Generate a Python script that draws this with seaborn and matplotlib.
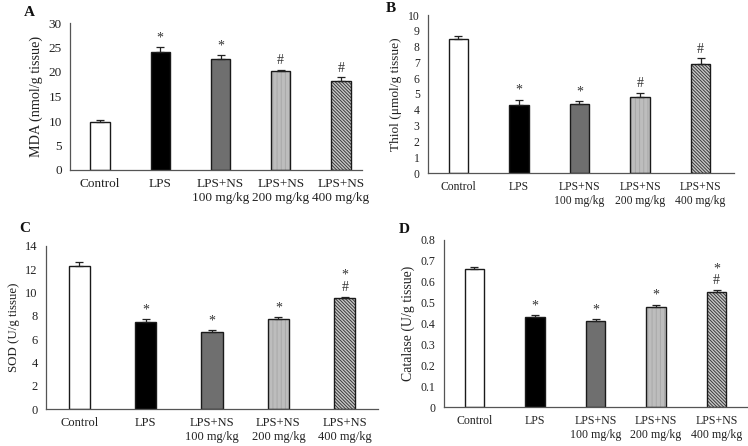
import numpy as np
import pandas as pd
import matplotlib
matplotlib.use("Agg")
import matplotlib.pyplot as plt
import matplotlib.colors as mcolors
import seaborn as sns

sns.set_theme(style="white")
plt.rcParams['font.family'] = ['Liberation Serif', 'DejaVu Serif']
plt.rcParams['hatch.linewidth'] = 0.7

groups = ['Control', 'LPS', 'LPS+NS\n100 mg/kg', 'LPS+NS\n200 mg/kg', 'LPS+NS\n400 mg/kg']

mda = [9.7, 24.0, 22.6, 20.2, 18.2]
mda_err = [0.6, 1.1, 0.9, 0.3, 0.7]
mda_marks = ['', '*', '*', '#', '#']

thiol = [8.45, 4.3, 4.35, 4.8, 6.9]
thiol_err = [0.25, 0.35, 0.2, 0.25, 0.35]
thiol_marks = ['', '*', '*', '#', '#']

sod = [12.3, 7.5, 6.6, 7.75, 9.5]
sod_err = [0.3, 0.2, 0.2, 0.15, 0.15]
sod_marks = ['', '*', '*', '*', '*\n#']

cat = [0.66, 0.43, 0.41, 0.48, 0.55]
cat_err = [0.01, 0.01, 0.01, 0.01, 0.01]
cat_marks = ['', '*', '*', '*', '*\n#']

fills = ['#ffffff', '#000000', '#6f6f6f', '#bdbdbd', '#c8c8c8']
hatches = [None, None, None, '||||', '\\' * 10]
hatch_cols = [None, None, None, '#a8a8a8', '#3a3a3a']

W, H = 748, 446
fig = plt.figure(figsize=(7.48, 4.46), dpi=100)


def px_axes(left, right, top, bottom):
    return fig.add_axes([left / W, 1 - bottom / H, (right - left) / W, (bottom - top) / H])


panels = [
    dict(box=(70, 362, 23, 170), vals=mda, err=mda_err, marks=mda_marks, ymax=30, step=5,
         ylabel='MDA (nmol/g tissue)', xr=4.35, tick=9.5, yl=10.2, letter='A', lp=(29, 12)),
    dict(box=(428, 734, 15, 173), vals=thiol, err=thiol_err, marks=thiol_marks, ymax=10, step=1,
         ylabel='Thiol (μmol/g tissue)', xr=4.55, tick=8.4, yl=9.6, letter='B', lp=(391, 9)),
    dict(box=(46, 378, 246, 409), vals=sod, err=sod_err, marks=sod_marks, ymax=14, step=2,
         ylabel='SOD (U/g tissue)', xr=4.5, tick=9.0, yl=9.3, letter='C', lp=(25, 228)),
    dict(box=(444, 747, 240, 407), vals=cat, err=cat_err, marks=cat_marks, ymax=0.8, step=0.1,
         ylabel='Catalase (U/g tissue)', xr=4.5, tick=8.6, yl=9.9, letter='D', lp=(404, 229)),
]

for p in panels:
    ax = px_axes(*p['box'])
    df = pd.DataFrame({'group': groups, 'value': p['vals']})
    sns.barplot(data=df, x='group', y='value', hue='group', palette=fills, legend=False,
                width=0.32, edgecolor='#1a1a1a', linewidth=1.0, ax=ax)
    for bar, h, hc in zip(ax.patches, hatches, hatch_cols):
        if h:
            bar.set_hatch(h)
            if hasattr(bar, 'set_hatchcolor'):
                bar.set_hatchcolor(hc)
            else:
                bar._hatch_color = mcolors.to_rgba(hc)
    x = np.arange(len(groups))
    ax.errorbar(x, p['vals'], yerr=[np.zeros(len(groups)), p['err']], fmt='none',
                ecolor='#222222', elinewidth=0.9, capsize=3, capthick=0.9)
    for xi, v, e, m in zip(x, p['vals'], p['err'], p['marks']):
        if m:
            ax.annotate(m, (xi, v + e), xytext=(0, 2), textcoords='offset points',
                        ha='center', va='bottom', fontsize=10, color='#333333', linespacing=0.9)
    ax.set_xlim(-0.5, p['xr'])
    ax.set_ylim(0, p['ymax'])
    ticks = np.round(np.arange(0, p['ymax'] + p['step'] / 2, p['step']), 2)
    ax.set_yticks(ticks)
    ax.set_yticklabels(['{:g}'.format(t) for t in ticks])
    ax.tick_params(axis='both', length=0, labelsize=p['tick'], colors='#222222', pad=6)
    ax.set_xlabel('')
    ax.set_ylabel(p['ylabel'], fontsize=p['yl'], color='#222222')
    for s in ['top', 'right']:
        ax.spines[s].set_visible(False)
    for s in ['left', 'bottom']:
        ax.spines[s].set_color('#555555')
        ax.spines[s].set_linewidth(0.9)
    fig.text(p['lp'][0] / W, 1 - p['lp'][1] / H, p['letter'], fontsize=11, fontweight='bold',
             ha='center', va='center', color='#111111')

fig.savefig('out.png', dpi=100)
